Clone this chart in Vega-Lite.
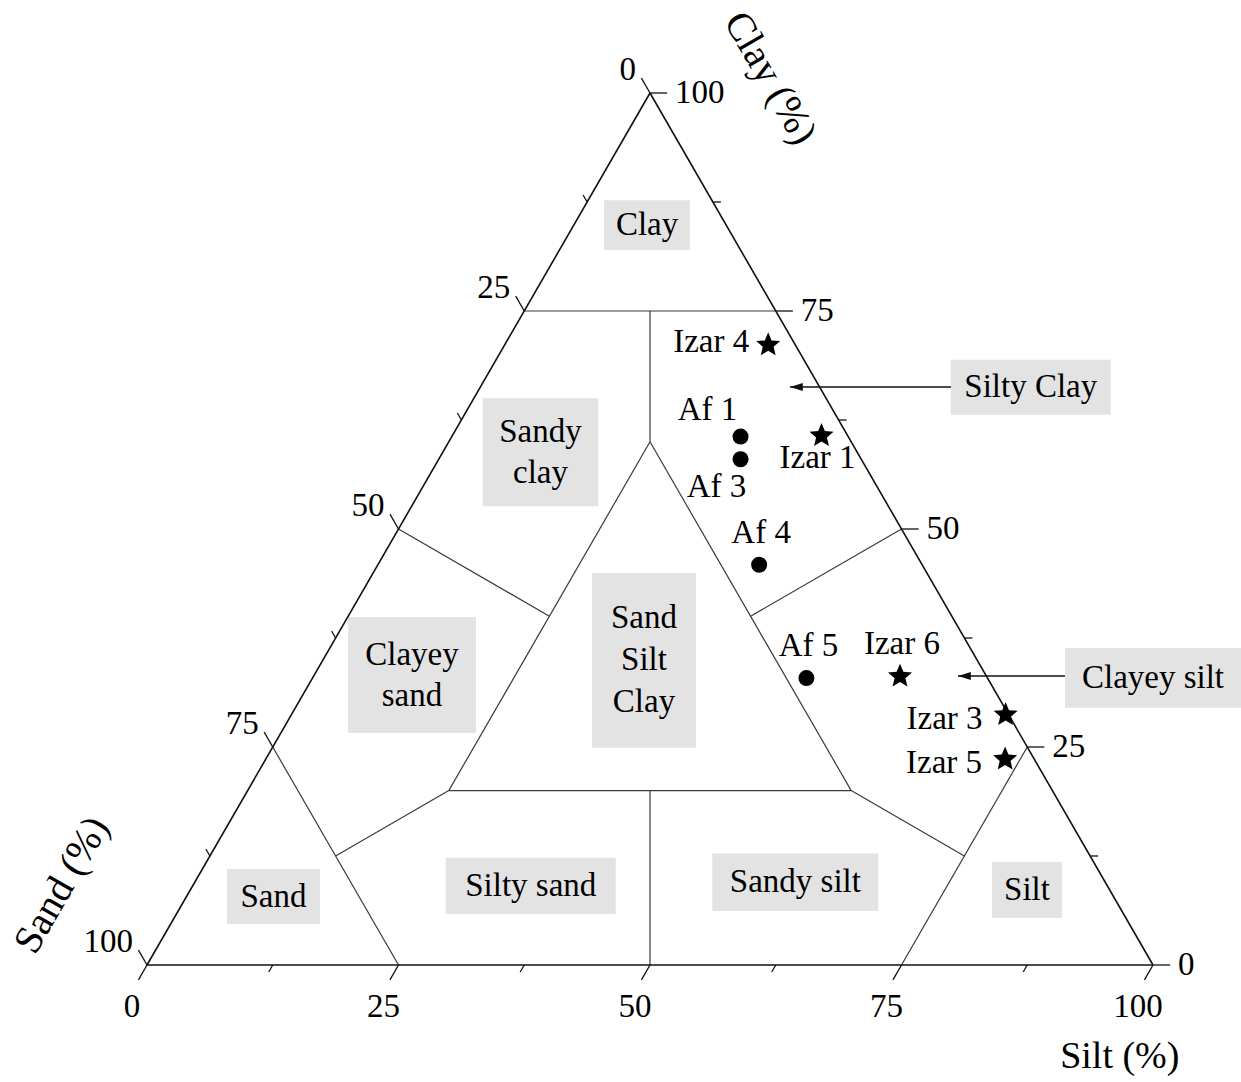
{
  "$schema": "https://vega.github.io/schema/vega-lite/v6.json",
  "width": 1006,
  "height": 872,
  "autosize": {"type": "none"},
  "padding": {"left": 147, "top": 93, "right": 88, "bottom": 117},
  "background": "white",
  "config": {
    "view": {"stroke": null},
    "axis": {"disable": true},
    "text": {"font": "Liberation Serif", "fontSize": 33, "color": "black"}
  },
  "datasets": {
    "samples": [
      {"sample": "Izar 4", "group": "Izar", "sand": 2.7, "silt": 26.2, "clay": 71.1},
      {"sample": "Izar 1", "group": "Izar", "sand": 2.6, "silt": 36.7, "clay": 60.7},
      {"sample": "Izar 6", "group": "Izar", "sand": 8.6, "silt": 58.3, "clay": 33.1},
      {"sample": "Izar 3", "group": "Izar", "sand": 0.3, "silt": 71.0, "clay": 28.7},
      {"sample": "Izar 5", "group": "Izar", "sand": 2.9, "silt": 73.5, "clay": 23.6},
      {"sample": "Af 1", "group": "Af", "sand": 10.7, "silt": 28.7, "clay": 60.6},
      {"sample": "Af 3", "group": "Af", "sand": 12.0, "silt": 30.0, "clay": 58.0},
      {"sample": "Af 4", "group": "Af", "sand": 16.2, "silt": 37.9, "clay": 45.9},
      {"sample": "Af 5", "group": "Af", "sand": 18.0, "silt": 49.1, "clay": 32.9}
    ],
    "frame": [
      {"s1": 0, "c1": 0, "s2": 100, "c2": 0},
      {"s1": 0, "c1": 0, "s2": 0, "c2": 100},
      {"s1": 100, "c1": 0, "s2": 0, "c2": 100}
    ],
    "classes": [
      {"s1": 0, "c1": 75, "s2": 25, "c2": 75},
      {"s1": 12.5, "c1": 75, "s2": 20, "c2": 60},
      {"s1": 20, "c1": 60, "s2": 20, "c2": 20},
      {"s1": 20, "c1": 20, "s2": 60, "c2": 20},
      {"s1": 60, "c1": 20, "s2": 20, "c2": 60},
      {"s1": 20, "c1": 40, "s2": 0, "c2": 50},
      {"s1": 40, "c1": 40, "s2": 50, "c2": 50},
      {"s1": 20, "c1": 20, "s2": 12.5, "c2": 12.5},
      {"s1": 0, "c1": 25, "s2": 25, "c2": 0},
      {"s1": 60, "c1": 20, "s2": 75, "c2": 12.5},
      {"s1": 75, "c1": 25, "s2": 75, "c2": 0},
      {"s1": 40, "c1": 20, "s2": 50, "c2": 0}
    ],
    "ticks": [
      {"axis": "silt", "v": 0, "major": true}, {"axis": "silt", "v": 12.5, "major": false},
      {"axis": "silt", "v": 25, "major": true}, {"axis": "silt", "v": 37.5, "major": false},
      {"axis": "silt", "v": 50, "major": true}, {"axis": "silt", "v": 62.5, "major": false},
      {"axis": "silt", "v": 75, "major": true}, {"axis": "silt", "v": 87.5, "major": false},
      {"axis": "silt", "v": 100, "major": true},
      {"axis": "sand", "v": 0, "major": true}, {"axis": "sand", "v": 12.5, "major": false},
      {"axis": "sand", "v": 25, "major": true}, {"axis": "sand", "v": 37.5, "major": false},
      {"axis": "sand", "v": 50, "major": true}, {"axis": "sand", "v": 62.5, "major": false},
      {"axis": "sand", "v": 75, "major": true}, {"axis": "sand", "v": 87.5, "major": false},
      {"axis": "sand", "v": 100, "major": true},
      {"axis": "clay", "v": 0, "major": true}, {"axis": "clay", "v": 12.5, "major": false},
      {"axis": "clay", "v": 25, "major": true}, {"axis": "clay", "v": 37.5, "major": false},
      {"axis": "clay", "v": 50, "major": true}, {"axis": "clay", "v": 62.5, "major": false},
      {"axis": "clay", "v": 75, "major": true}, {"axis": "clay", "v": 87.5, "major": false},
      {"axis": "clay", "v": 100, "major": true}
    ],
    "regions": [
      {"label": "Clay", "x0": 45.43, "x1": 53.98, "y0": 82.0, "y1": 87.7},
      {"label": "Sandy\nclay", "x0": 33.37, "x1": 44.86, "y0": 52.6, "y1": 65.0},
      {"label": "Clayey\nsand", "x0": 19.98, "x1": 32.7, "y0": 26.6, "y1": 39.9},
      {"label": "Sand\nSilt\nClay", "x0": 44.23, "x1": 54.57, "y0": 24.9, "y1": 44.95},
      {"label": "Sand", "x0": 7.95, "x1": 17.2, "y0": 4.7, "y1": 11.0},
      {"label": "Silty sand", "x0": 29.7, "x1": 46.6, "y0": 5.85, "y1": 12.3},
      {"label": "Sandy silt", "x0": 56.2, "x1": 72.7, "y0": 6.2, "y1": 12.8},
      {"label": "Silt", "x0": 84.0, "x1": 90.95, "y0": 5.4, "y1": 11.8},
      {"label": "Silty Clay", "x0": 79.9, "x1": 95.8, "y0": 63.1, "y1": 69.4},
      {"label": "Clayey silt", "x0": 91.25, "x1": 108.75, "y0": 29.5, "y1": 36.35}
    ],
    "callouts": [
      {"label": "Silty Clay", "tip": 63.92, "end": 79.92, "level": 66.28},
      {"label": "Clayey silt", "tip": 80.62, "end": 91.25, "level": 33.14}
    ]
  },
  "layer": [
    {
      "data": {"name": "regions"},
      "mark": {"type": "rect", "fill": "#e3e3e3"},
      "encoding": {
        "x": {"field": "x0", "type": "quantitative", "scale": {"domain": [0, 100], "nice": false, "zero": false}},
        "x2": {"field": "x1"},
        "y": {"field": "y0", "type": "quantitative", "scale": {"domain": [0, 100], "nice": false, "zero": false}},
        "y2": {"field": "y1"}
      }
    },
    {
      "data": {"name": "regions"},
      "transform": [
        {"filter": {"field": "label", "oneOf": ["Clay", "Sand", "Silty sand", "Sandy silt", "Silt", "Silty Clay", "Clayey silt"]}},
        {"calculate": "(datum.x0 + datum.x1) / 2", "as": "cx"},
        {"calculate": "(datum.y0 + datum.y1) / 2", "as": "cy"}
      ],
      "mark": {"type": "text", "align": "center", "baseline": "middle"},
      "encoding": {
        "x": {"field": "cx", "type": "quantitative", "scale": {"domain": [0, 100], "nice": false, "zero": false}},
        "y": {"field": "cy", "type": "quantitative", "scale": {"domain": [0, 100], "nice": false, "zero": false}},
        "text": {"field": "label"}
      }
    },
    {
      "data": {"name": "regions"},
      "transform": [
        {"filter": {"field": "label", "oneOf": ["Sandy\nclay", "Clayey\nsand"]}},
        {"calculate": "(datum.x0 + datum.x1) / 2", "as": "cx"},
        {"calculate": "(datum.y0 + datum.y1) / 2", "as": "cy"}
      ],
      "mark": {"type": "text", "align": "center", "baseline": "middle", "lineBreak": "\n", "lineHeight": 41, "dy": -20},
      "encoding": {
        "x": {"field": "cx", "type": "quantitative", "scale": {"domain": [0, 100], "nice": false, "zero": false}},
        "y": {"field": "cy", "type": "quantitative", "scale": {"domain": [0, 100], "nice": false, "zero": false}},
        "text": {"field": "label"}
      }
    },
    {
      "data": {"name": "regions"},
      "transform": [
        {"filter": {"field": "label", "oneOf": ["Sand\nSilt\nClay"]}},
        {"calculate": "(datum.x0 + datum.x1) / 2", "as": "cx"},
        {"calculate": "(datum.y0 + datum.y1) / 2", "as": "cy"}
      ],
      "mark": {"type": "text", "align": "center", "baseline": "middle", "lineBreak": "\n", "lineHeight": 42, "dy": -42},
      "encoding": {
        "x": {"field": "cx", "type": "quantitative", "scale": {"domain": [0, 100], "nice": false, "zero": false}},
        "y": {"field": "cy", "type": "quantitative", "scale": {"domain": [0, 100], "nice": false, "zero": false}},
        "text": {"field": "label"}
      }
    },
    {
      "data": {"name": "classes"},
      "transform": [
        {"calculate": "datum.s1 + datum.c1 / 2", "as": "xa"},
        {"calculate": "datum.s2 + datum.c2 / 2", "as": "xb"}
      ],
      "mark": {"type": "rule", "color": "#3a3a3a", "strokeWidth": 1.2},
      "encoding": {
        "x": {"field": "xa", "type": "quantitative", "scale": {"domain": [0, 100], "nice": false, "zero": false}},
        "x2": {"field": "xb"},
        "y": {"field": "c1", "type": "quantitative", "scale": {"domain": [0, 100], "nice": false, "zero": false}},
        "y2": {"field": "c2"}
      }
    },
    {
      "data": {"name": "frame"},
      "transform": [
        {"calculate": "datum.s1 + datum.c1 / 2", "as": "xa"},
        {"calculate": "datum.s2 + datum.c2 / 2", "as": "xb"}
      ],
      "mark": {"type": "rule", "color": "#111111", "strokeWidth": 1.6},
      "encoding": {
        "x": {"field": "xa", "type": "quantitative", "scale": {"domain": [0, 100], "nice": false, "zero": false}},
        "x2": {"field": "xb"},
        "y": {"field": "c1", "type": "quantitative", "scale": {"domain": [0, 100], "nice": false, "zero": false}},
        "y2": {"field": "c2"}
      }
    },
    {
      "data": {"name": "ticks"},
      "transform": [
        {"calculate": "datum.major ? 1.7 : 0.8", "as": "d"},
        {"calculate": "datum.axis == 'silt' ? datum.v : datum.axis == 'sand' ? (100 - datum.v) / 2 : 100 - datum.v / 2", "as": "tx"},
        {"calculate": "datum.axis == 'silt' ? 0 : datum.axis == 'sand' ? 100 - datum.v : datum.v", "as": "ty"},
        {"calculate": "datum.axis == 'clay' ? datum.tx + datum.d : datum.tx - datum.d / 2", "as": "tx2"},
        {"calculate": "datum.axis == 'silt' ? -datum.d : datum.axis == 'sand' ? datum.ty + datum.d : datum.ty", "as": "ty2"}
      ],
      "mark": {"type": "rule", "color": "#111111", "strokeWidth": 1.3},
      "encoding": {
        "x": {"field": "tx", "type": "quantitative", "scale": {"domain": [0, 100], "nice": false, "zero": false}},
        "x2": {"field": "tx2"},
        "y": {"field": "ty", "type": "quantitative", "scale": {"domain": [0, 100], "nice": false, "zero": false}},
        "y2": {"field": "ty2"}
      }
    },
    {
      "data": {"name": "ticks"},
      "transform": [{"filter": "datum.major && datum.axis == 'silt'"}],
      "mark": {"type": "text", "align": "center", "baseline": "middle", "dx": -15, "dy": 42},
      "encoding": {
        "x": {"field": "v", "type": "quantitative", "scale": {"domain": [0, 100], "nice": false, "zero": false}},
        "y": {"datum": 0, "type": "quantitative", "scale": {"domain": [0, 100], "nice": false, "zero": false}},
        "text": {"field": "v"}
      }
    },
    {
      "data": {"name": "ticks"},
      "transform": [
        {"filter": "datum.major && datum.axis == 'sand'"},
        {"calculate": "(100 - datum.v) / 2", "as": "tx"},
        {"calculate": "100 - datum.v", "as": "ty"}
      ],
      "mark": {"type": "text", "align": "right", "baseline": "middle", "dx": -14, "dy": -23},
      "encoding": {
        "x": {"field": "tx", "type": "quantitative", "scale": {"domain": [0, 100], "nice": false, "zero": false}},
        "y": {"field": "ty", "type": "quantitative", "scale": {"domain": [0, 100], "nice": false, "zero": false}},
        "text": {"field": "v"}
      }
    },
    {
      "data": {"name": "ticks"},
      "transform": [
        {"filter": "datum.major && datum.axis == 'clay'"},
        {"calculate": "100 - datum.v / 2", "as": "tx"}
      ],
      "mark": {"type": "text", "align": "left", "baseline": "middle", "dx": 25, "dy": 0},
      "encoding": {
        "x": {"field": "tx", "type": "quantitative", "scale": {"domain": [0, 100], "nice": false, "zero": false}},
        "y": {"field": "v", "type": "quantitative", "scale": {"domain": [0, 100], "nice": false, "zero": false}},
        "text": {"field": "v"}
      }
    },
    {
      "data": {"name": "callouts"},
      "mark": {"type": "rule", "color": "#111111", "strokeWidth": 1.5},
      "encoding": {
        "x": {"field": "tip", "type": "quantitative", "scale": {"domain": [0, 100], "nice": false, "zero": false}},
        "x2": {"field": "end"},
        "y": {"field": "level", "type": "quantitative", "scale": {"domain": [0, 100], "nice": false, "zero": false}}
      }
    },
    {
      "data": {"name": "callouts"},
      "mark": {"type": "point", "shape": "M0,0L1.6,-0.5L1.6,0.5Z", "filled": true, "color": "#111111", "size": 256, "opacity": 1},
      "encoding": {
        "x": {"field": "tip", "type": "quantitative", "scale": {"domain": [0, 100], "nice": false, "zero": false}},
        "y": {"field": "level", "type": "quantitative", "scale": {"domain": [0, 100], "nice": false, "zero": false}}
      }
    },
    {
      "data": {"name": "samples"},
      "transform": [
        {"filter": "datum.group == 'Af'"},
        {"calculate": "datum.silt + datum.clay / 2", "as": "px"}
      ],
      "mark": {"type": "point", "shape": "circle", "filled": true, "color": "black", "size": 256, "opacity": 1},
      "encoding": {
        "x": {"field": "px", "type": "quantitative", "scale": {"domain": [0, 100], "nice": false, "zero": false}},
        "y": {"field": "clay", "type": "quantitative", "scale": {"domain": [0, 100], "nice": false, "zero": false}}
      }
    },
    {
      "data": {"name": "samples"},
      "transform": [
        {"filter": "datum.group == 'Izar'"},
        {"calculate": "datum.silt + datum.clay / 2", "as": "px"}
      ],
      "mark": {"type": "point", "shape": "M0,-1L0.265,-0.364L0.951,-0.309L0.428,0.139L0.588,0.809L0,0.45L-0.588,0.809L-0.428,0.139L-0.951,-0.309L-0.265,-0.364Z", "filled": true, "color": "black", "size": 640, "opacity": 1},
      "encoding": {
        "x": {"field": "px", "type": "quantitative", "scale": {"domain": [0, 100], "nice": false, "zero": false}},
        "y": {"field": "clay", "type": "quantitative", "scale": {"domain": [0, 100], "nice": false, "zero": false}}
      }
    },
    {
      "data": {"name": "samples"},
      "transform": [
        {"filter": {"field": "sample", "oneOf": ["Izar 4"]}},
        {"calculate": "datum.silt + datum.clay / 2", "as": "px"}
      ],
      "mark": {"type": "text", "align": "right", "baseline": "middle", "dx": -19, "dy": -3},
      "encoding": {
        "x": {"field": "px", "type": "quantitative", "scale": {"domain": [0, 100], "nice": false, "zero": false}},
        "y": {"field": "clay", "type": "quantitative", "scale": {"domain": [0, 100], "nice": false, "zero": false}},
        "text": {"field": "sample"}
      }
    },
    {
      "data": {"name": "samples"},
      "transform": [
        {"filter": {"field": "sample", "oneOf": ["Izar 3", "Izar 5"]}},
        {"calculate": "datum.silt + datum.clay / 2", "as": "px"}
      ],
      "mark": {"type": "text", "align": "right", "baseline": "middle", "dx": -23, "dy": 4},
      "encoding": {
        "x": {"field": "px", "type": "quantitative", "scale": {"domain": [0, 100], "nice": false, "zero": false}},
        "y": {"field": "clay", "type": "quantitative", "scale": {"domain": [0, 100], "nice": false, "zero": false}},
        "text": {"field": "sample"}
      }
    },
    {
      "data": {"name": "samples"},
      "transform": [
        {"filter": {"field": "sample", "oneOf": ["Af 4", "Af 5", "Izar 6"]}},
        {"calculate": "datum.silt + datum.clay / 2", "as": "px"}
      ],
      "mark": {"type": "text", "align": "center", "baseline": "middle", "dx": 2, "dy": -32},
      "encoding": {
        "x": {"field": "px", "type": "quantitative", "scale": {"domain": [0, 100], "nice": false, "zero": false}},
        "y": {"field": "clay", "type": "quantitative", "scale": {"domain": [0, 100], "nice": false, "zero": false}},
        "text": {"field": "sample"}
      }
    },
    {
      "data": {"name": "samples"},
      "transform": [
        {"filter": {"field": "sample", "oneOf": ["Af 1"]}},
        {"calculate": "datum.silt + datum.clay / 2", "as": "px"}
      ],
      "mark": {"type": "text", "align": "center", "baseline": "middle", "dx": -33, "dy": -27},
      "encoding": {
        "x": {"field": "px", "type": "quantitative", "scale": {"domain": [0, 100], "nice": false, "zero": false}},
        "y": {"field": "clay", "type": "quantitative", "scale": {"domain": [0, 100], "nice": false, "zero": false}},
        "text": {"field": "sample"}
      }
    },
    {
      "data": {"name": "samples"},
      "transform": [
        {"filter": {"field": "sample", "oneOf": ["Af 3"]}},
        {"calculate": "datum.silt + datum.clay / 2", "as": "px"}
      ],
      "mark": {"type": "text", "align": "center", "baseline": "middle", "dx": -24, "dy": 28},
      "encoding": {
        "x": {"field": "px", "type": "quantitative", "scale": {"domain": [0, 100], "nice": false, "zero": false}},
        "y": {"field": "clay", "type": "quantitative", "scale": {"domain": [0, 100], "nice": false, "zero": false}},
        "text": {"field": "sample"}
      }
    },
    {
      "data": {"name": "samples"},
      "transform": [
        {"filter": {"field": "sample", "oneOf": ["Izar 1"]}},
        {"calculate": "datum.silt + datum.clay / 2", "as": "px"}
      ],
      "mark": {"type": "text", "align": "center", "baseline": "middle", "dx": -4, "dy": 22},
      "encoding": {
        "x": {"field": "px", "type": "quantitative", "scale": {"domain": [0, 100], "nice": false, "zero": false}},
        "y": {"field": "clay", "type": "quantitative", "scale": {"domain": [0, 100], "nice": false, "zero": false}},
        "text": {"field": "sample"}
      }
    },
    {
      "data": {"values": [{"title": "Clay (%)"}]},
      "mark": {"type": "text", "align": "center", "baseline": "middle", "angle": 60, "fontSize": 40},
      "encoding": {
        "x": {"datum": 61.93, "type": "quantitative", "scale": {"domain": [0, 100], "nice": false, "zero": false}},
        "y": {"datum": 101.7, "type": "quantitative", "scale": {"domain": [0, 100], "nice": false, "zero": false}},
        "text": {"field": "title"}
      }
    },
    {
      "data": {"values": [{"title": "Sand (%)"}]},
      "mark": {"type": "text", "align": "center", "baseline": "middle", "angle": -60, "fontSize": 40},
      "encoding": {
        "x": {"datum": -8.45, "type": "quantitative", "scale": {"domain": [0, 100], "nice": false, "zero": false}},
        "y": {"datum": 9.17, "type": "quantitative", "scale": {"domain": [0, 100], "nice": false, "zero": false}},
        "text": {"field": "title"}
      }
    },
    {
      "data": {"values": [{"title": "Silt (%)"}]},
      "mark": {"type": "text", "align": "center", "baseline": "middle", "fontSize": 38},
      "encoding": {
        "x": {"datum": 96.7, "type": "quantitative", "scale": {"domain": [0, 100], "nice": false, "zero": false}},
        "y": {"datum": -10.55, "type": "quantitative", "scale": {"domain": [0, 100], "nice": false, "zero": false}},
        "text": {"field": "title"}
      }
    }
  ]
}
